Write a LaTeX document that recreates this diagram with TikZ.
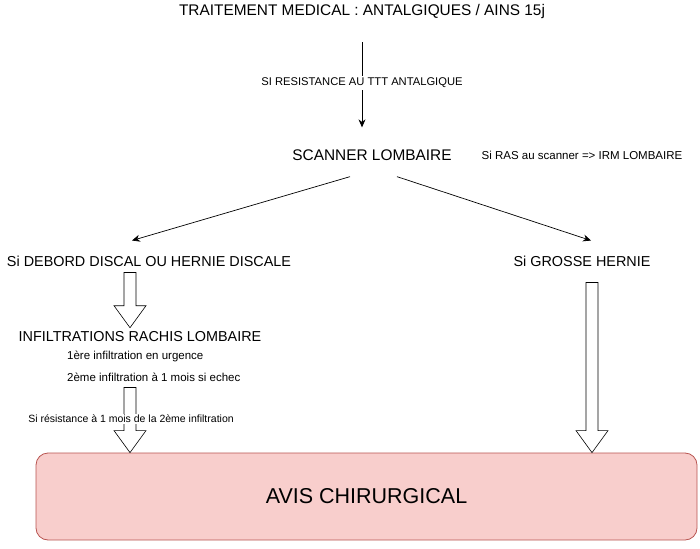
\documentclass[tikz,border=0pt]{standalone}
\usepackage{fontspec}
\setmainfont{Liberation Sans}
\usetikzlibrary{arrows.meta,calc}
\definecolor{avisfill}{HTML}{F8CECC}
\definecolor{avisdraw}{HTML}{B85450}
% hollow block arrow: x position, start point, tip point
\newcommand{\blockarrow}[3]{%
  \draw[fill=white, line width=0.6pt] let \p1=#2, \p2=#3 in
    (#1pt-6pt,\y1) -- (#1pt+6pt,\y1) -- (#1pt+6pt,\y2+22pt) -- (#1pt+16pt,\y2+22pt)
    -- (#1pt,\y2) -- (#1pt-16pt,\y2+22pt) -- (#1pt-6pt,\y2+22pt) -- cycle;}
\begin{document}
\begin{tikzpicture}[x=1pt,y=-1pt,
    huge/.style={font=\fontsize{15.4}{17}\selectfont, inner sep=0pt},
    big/.style={font=\fontsize{14.4}{16}\selectfont, inner sep=0pt},
    small/.style={font=\fontsize{11.5}{13}\selectfont, inner sep=0pt},
    tiny/.style={font=\fontsize{10.5}{12}\selectfont, inner sep=0pt},
    thin/.style={line width=0.7pt, -{Stealth[length=8pt,width=7pt]}}]
\useasboundingbox (0,0) rectangle (700,548);
\node[huge] (title) at (362,12) {TRAITEMENT MEDICAL : ANTALGIQUES / AINS 15j};
\node[huge] (scanner) at (372,155) {SCANNER LOMBAIRE};
\node[small] (irm) at (582,155) {Si RAS au scanner => IRM LOMBAIRE};
\node[big] (debord) at (149,261) {Si DEBORD DISCAL OU HERNIE DISCALE};
\node[big] (grosse) at (582,261) {Si GROSSE HERNIE};
\node[big] (infil) at (140,337) {INFILTRATIONS RACHIS LOMBAIRE};
\node[small, anchor=west] (infilA) at (67,356) {1ère infiltration en urgence};
\node[small, anchor=west] (infilB) at (67,377) {2ème infiltration à 1 mois si echec};
\node[draw=avisdraw, fill=avisfill, line width=0.8pt, rounded corners=12pt,
  minimum width=661pt, minimum height=87pt, font=\fontsize{21.5}{24}\selectfont]
  (avis) at (366.5,496.5) {AVIS CHIRURGICAL};

\draw[thin, shorten <=23pt, shorten >=22pt] (title.south) -- (title.south |- scanner.north)
  node[font=\fontsize{11.2}{13}\selectfont, fill=white, inner sep=2pt, pos=0.49] {SI RESISTANCE AU TTT ANTALGIQUE};
\draw[thin] ($(scanner.south)+(-22,16)$) -- ($(debord.north)+(-17,-15)$);
\draw[thin] ($(scanner.south)+(25,16)$) -- ($(grosse.north)+(9,-15)$);

\blockarrow{130}{($(debord.south)+(0,6)$)}{($(infil.north)+(0,-4)$)}
\blockarrow{130}{($(infilB.south)+(0,6)$)}{(avis.north)}
\blockarrow{592}{($(grosse.south)+(0,16)$)}{(avis.north)}
\node[tiny, fill=white, inner sep=1pt] (resist) at (131,419) {Si résistance à 1 mois de la 2ème infiltration};
\end{tikzpicture}
\end{document}
